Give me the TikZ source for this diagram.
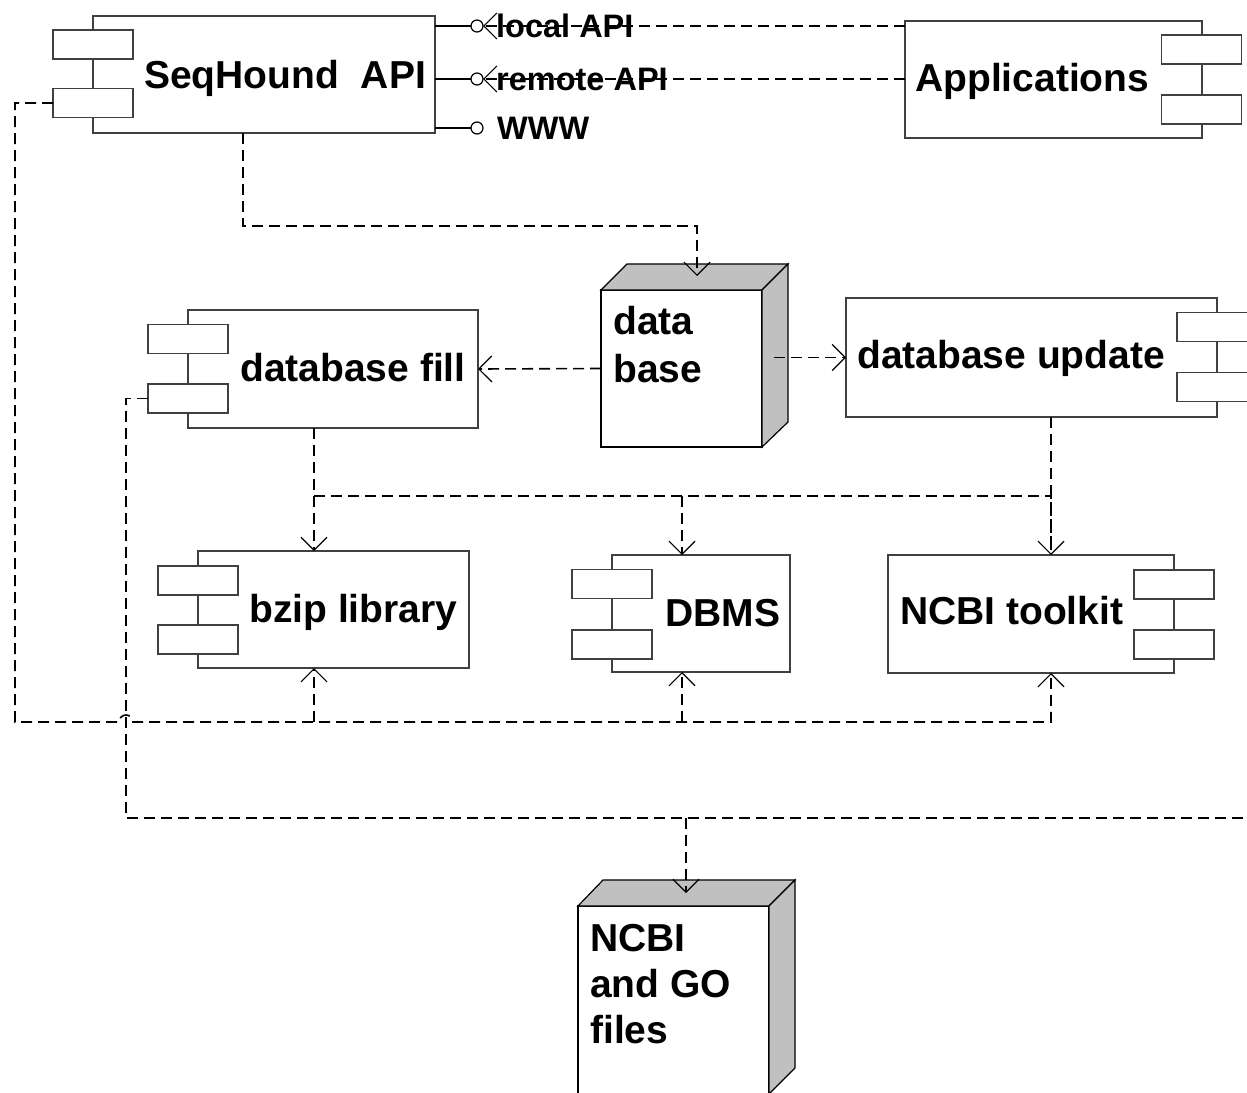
\documentclass[tikz,border=0pt]{standalone}
\usepackage{fontspec}
\setmainfont{Liberation Sans}
\usetikzlibrary{arrows.meta}
\definecolor{facegray}{HTML}{C0C0C0}
\definecolor{boxline}{HTML}{404040}
\begin{document}
\begin{tikzpicture}[x=1pt,y=-1pt,
  box/.style={rectangle, draw=boxline, line width=1.3pt, fill=white, inner sep=0pt, outer sep=0pt},
  port/.style={box, minimum width=80pt, minimum height=29pt},
  lbl/.style={font=\bfseries\fontsize{39}{46}\selectfont, inner sep=0pt, anchor=base west},
  ilbl/.style={font=\bfseries\fontsize{32.5}{38}\selectfont, inner sep=0pt, anchor=base west},
  dep/.style={draw=black, line width=1.6pt, dash pattern=on 11pt off 6pt},
  tip/.style={-{Straight Barb[length=13pt,width=26pt,line width=1.2pt]}},
  face/.style={draw=black, line width=1.2pt, fill=facegray, line join=miter},
  lolli/.style={circle, draw=black, line width=1.2pt, fill=white, minimum size=12pt, inner sep=0pt, outer sep=0pt},
  solidline/.style={draw=black, line width=1.2pt}
]
\fill[white] (0,0) rectangle (1247,1092);
\useasboundingbox (0,0) rectangle (1247,1092);

% ---------- components ----------
% SeqHound API
\node[box, minimum width=342pt, minimum height=117pt] (seq) at (264,74.5) {};
\node[port] (seqa) at (93,44.5) {};
\node[port] (seqb) at (93,103) {};
\node[lbl] (seqlbl) at (144,88) {SeqHound\ \ API};

% Applications
\node[box, minimum width=297pt, minimum height=117pt] (app) at (1053.5,79.5) {};
\node[port] (appa) at (1201.5,49.5) {};
\node[port] (appb) at (1201.5,109.5) {};
\node[lbl] (applbl) at (915,91) {Applications};

% database fill
\node[box, minimum width=290pt, minimum height=118pt] (fill) at (333,369) {};
\node[port] (filla) at (188,339) {};
\node[port] (fillb) at (188,398.5) {};
\node[lbl] (filllbl) at (240,381) {database fill};

% database update
\node[box, minimum width=371pt, minimum height=119pt] (update) at (1031.5,357.5) {};
\node[port] (updatea) at (1217,327) {};
\node[port] (updateb) at (1217,387) {};
\node[lbl] (updatelbl) at (857,368) {database update};

% bzip library
\node[box, minimum width=271pt, minimum height=117pt] (bzip) at (333.5,609.5) {};
\node[port] (bzipa) at (198,580.5) {};
\node[port] (bzipb) at (198,639.5) {};
\node[lbl] (bziplbl) at (249,622) {bzip library};

% DBMS
\node[box, minimum width=178pt, minimum height=117pt] (dbms) at (701,613.5) {};
\node[port] (dbmsa) at (612,584) {};
\node[port] (dbmsb) at (612,644.5) {};
\node[lbl] (dbmslbl) at (665,626) {DBMS};

% NCBI toolkit
\node[box, minimum width=286pt, minimum height=118pt] (toolkit) at (1031,614) {};
\node[port] (toolkita) at (1174,584.5) {};
\node[port] (toolkitb) at (1174,644.5) {};
\node[lbl] (toolkitlbl) at (900,624) {NCBI toolkit};

% ---------- nodes (3D boxes) ----------
\node[box, draw=black, minimum width=161pt, minimum height=157pt] (db) at (681.5,368.5) {};
\draw[face] (db.north west) -- ++(26,-26) -- ++(161,0) -- (db.north east) -- cycle;
\draw[face] (db.north east) -- ++(26,-26) -- ++(0,158) -- (db.south east) -- cycle;
\node[lbl] (dbl1) at (613,334) {data};
\node[lbl] (dbl2) at (613,382) {base};

\node[box, draw=black, minimum width=191pt, minimum height=188pt] (files) at (673.5,1000) {};
\draw[face] (files.north west) -- ++(25,-26) -- ++(192,0) -- (files.north east) -- cycle;
\draw[face] (files.north east) -- ++(26,-26) -- ++(0,188) -- (files.south east) -- cycle;
\node[lbl] (fl1) at (590,951) {NCBI};
\node[lbl] (fl2) at (590,997) {and GO};
\node[lbl] (fl3) at (590,1043) {files};

% ---------- interfaces ----------
\node[lolli] (c1) at (477,26) {};
\node[lolli] (c2) at (477,79) {};
\node[lolli] (c3) at (477,128) {};
\draw[solidline] (seq.east |- c1) -- (c1);
\draw[solidline] (seq.east |- c2) -- (c2);
\draw[solidline] (seq.east |- c3) -- (c3);
\node[ilbl] (i1) at (496,37.5) {local API};
\node[ilbl] (i2) at (496,90.5) {remote API};
\node[ilbl] (i3) at (497,139.5) {WWW};
\draw[dep,tip] (app.west |- c1) -- (c1);
\draw[dep,tip] (app.west |- c2) -- (c2);

% ---------- dependencies ----------
\coordinate (s1) at (243,226);
\coordinate (s2) at (697,226);
\coordinate (dbtop) at (697,276);
\draw[dep,tip] (seq.south -| s1) -- (s1) -- (s2) -- (dbtop);

\draw[dep,tip] (db.west) -- (fill.east);
\coordinate (dbr) at (774,357.5);
\draw[dep,tip] (dbr) -- (update.west);

\coordinate (fb) at (314,496);
\coordinate (ub) at (1051,496);
\coordinate (mb) at (682,496);
\draw[dep,tip] (fill.south -| fb) -- (bzip.north -| fb);
\draw[dep,tip] (update.south -| ub) -- (toolkit.north -| ub);
\draw[dep] (fb) -- (ub);
\draw[dep,tip] (mb) -- (dbms.north -| mb);
\draw[dep, dash phase=8.5pt] (ub) -- (toolkit.north -| ub);

\coordinate (l1) at (15,103);
\coordinate (l2) at (15,722);
\coordinate (h1) at (119,722);
\coordinate (l3) at (1051,722);
\draw[dep,tip] (seqb.west) -- (l1) -- (l2) -- (h1) arc[start angle=180, end angle=360, radius=7] -- (l3) -- (toolkit.south -| l3);
\coordinate (lb) at (314,722);
\coordinate (lm) at (682,722);
\draw[dep,tip] (lb) -- (bzip.south -| lb);
\draw[dep,tip] (lm) -- (dbms.south -| lm);

\coordinate (f1) at (126,398.5);
\coordinate (f2) at (126,818);
\coordinate (f3) at (1250,818);
\coordinate (fm) at (686,818);
\coordinate (ftop) at (686,893);
\draw[dep] (fillb.west) -- (f1) -- (f2) -- (f3);
\draw[dep,tip] (fm) -- (ftop);
\end{tikzpicture}
\end{document}
